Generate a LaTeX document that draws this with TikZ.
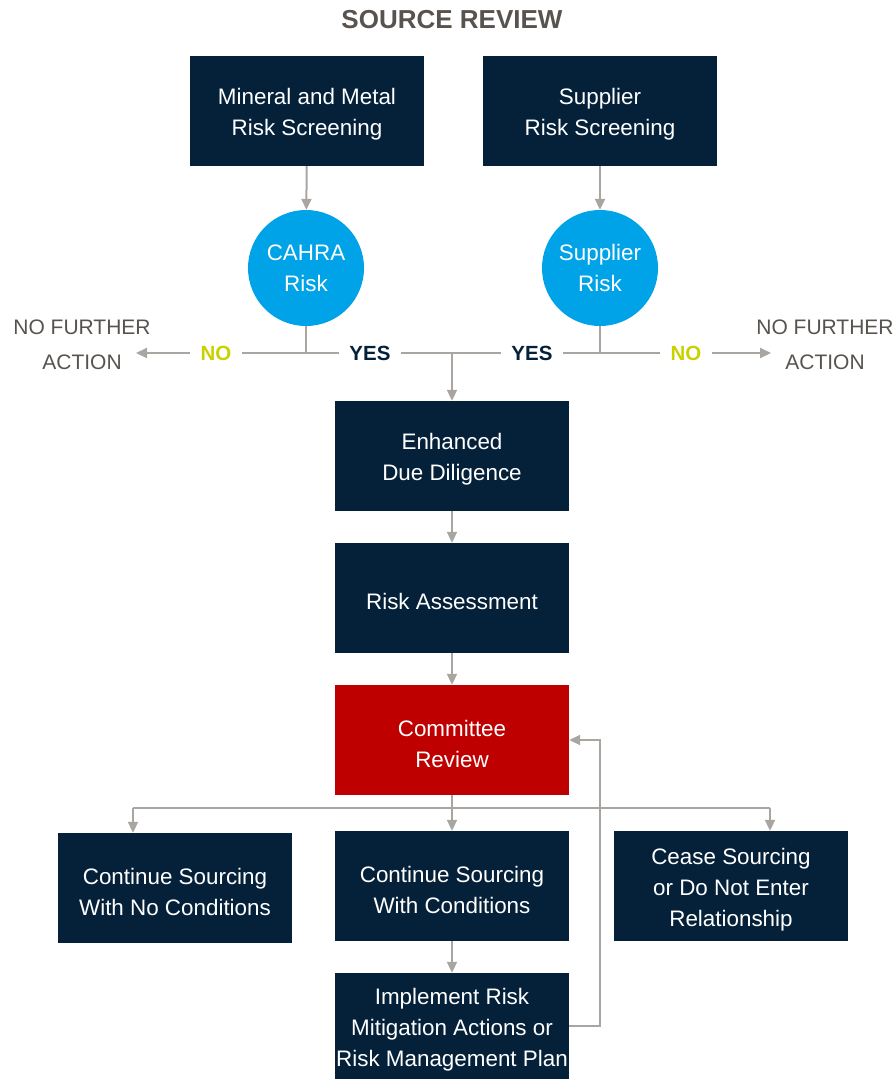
\documentclass[tikz,border=0pt]{standalone}
\usepackage{fontspec}
\setmainfont{Liberation Sans}
\usetikzlibrary{arrows.meta}
\definecolor{navy}{HTML}{05213A}
\definecolor{crred}{HTML}{BE0000}
\definecolor{cyanc}{HTML}{00A3E8}
\definecolor{lgray}{HTML}{A9A6A1}
\definecolor{ygreen}{HTML}{C9D200}
\definecolor{tgray}{HTML}{58534E}
\tikzset{
  boxtxt/.style={text=white, align=center, inner sep=0pt, yshift=-3.5pt, font=\fontsize{22.4}{31}\selectfont},
  box/.style={rectangle, fill=navy, minimum width=234pt, minimum height=110pt, inner sep=0pt, label={[boxtxt]center:#1}},
  redbox/.style={box=#1, fill=crred},
  circ/.style={circle, fill=cyanc, text=white, minimum size=116pt, align=center, inner sep=0pt, font=\fontsize{22.4}{31}\selectfont},
  lab/.style={font=\fontsize{20.5}{24}\selectfont\bfseries, inner xsep=10pt, inner ysep=2pt},
  yeslab/.style={lab, text=navy},
  nolab/.style={lab, text=ygreen},
  nfa/.style={align=center, text=tgray, font=\fontsize{21}{35}\selectfont, inner sep=0pt},
  conn/.style={draw=lgray, line width=2pt},
  arr/.style={conn, -{Triangle[length=11pt,width=10pt]}},
}
\begin{document}
\begin{tikzpicture}[x=1pt,y=-1pt]
\useasboundingbox (0,0) rectangle (896,1079);
\node[font=\fontsize{26}{30}\selectfont\bfseries, text=tgray] (title) at (452,20) {SOURCE REVIEW};
\node[box={Mineral and Metal\\Risk Screening}] (m1) at (307,111) {};
\node[box={Supplier\\Risk Screening}] (s1) at (600,111) {};
\node[circ] (c1) at (306,268) {CAHRA\\Risk};
\node[circ] (c2) at (600,268) {Supplier\\Risk};
\node[nolab] (no1) at (216,353) {NO};
\node[yeslab] (yes1) at (370,353) {YES};
\node[yeslab] (yes2) at (532,353) {YES};
\node[nolab] (no2) at (686,353) {NO};
\node[nfa] (nfa1) at (82,345) {NO FURTHER\\ACTION};
\node[nfa] (nfa2) at (825,345) {NO FURTHER\\ACTION};
\coordinate (a1) at (136,353);
\coordinate (a2) at (771,353);
\coordinate (j) at (452,353);
\node[box={Enhanced\\Due Diligence}] (edd) at (452,456) {};
\node[box={Risk Assessment}] (ra) at (452,598) {};
\node[redbox={Committee\\Review}] (cr) at (452,740) {};
\node[box={Continue Sourcing\\With No Conditions}] (b1) at (175,888) {};
\node[box={Continue Sourcing\\With Conditions}] (b2) at (452,886) {};
\node[box={Cease Sourcing\\or Do Not Enter\\Relationship}] (b3) at (731,886) {};
\node[box={Implement Risk\\Mitigation Actions or\\Risk Management Plan}, minimum height=106pt] (imp) at (452,1026) {};
\coordinate (h) at (452,808);
\coordinate (hl) at (133,808);
\coordinate (hr) at (770,808);
\coordinate (fb) at (600,1026);
% connectors
\draw[arr] (m1) -- (c1);
\draw[arr] (s1) -- (c2);
\draw[conn] (c1.south) -- (c1.south |- j);
\draw[conn] (c2.south) -- (c2.south |- j);
\draw[arr] (no1.west) -- (a1);
\draw[conn] (no1.east) -- (yes1.west);
\draw[conn] (yes1.east) -- (yes2.west);
\draw[conn] (yes2.east) -- (no2.west);
\draw[arr] (no2.east) -- (a2);
\draw[arr] (j) -- (edd);
\draw[arr] (edd) -- (ra);
\draw[arr] (ra) -- (cr);
\draw[conn] (cr.south) -- (h);
\draw[arr] (h) -- (b2);
\draw[conn] (hl) -- (hr);
\draw[arr] (hl) -- (hl |- b1.north);
\draw[arr] (hr) -- (hr |- b3.north);
\draw[arr] (b2) -- (imp);
\draw[arr] (imp.east) -- (fb) |- (cr.east);
\end{tikzpicture}
\end{document}
